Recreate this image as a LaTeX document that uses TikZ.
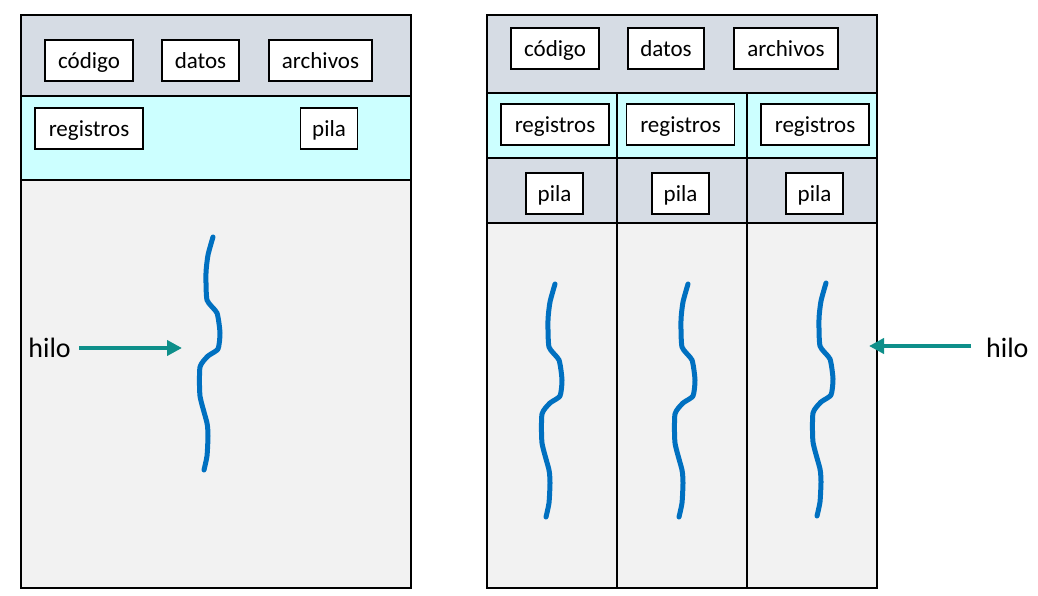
\documentclass[tikz,border=0pt]{standalone}
\usepackage{fontspec}
\setmainfont{Carlito}
\usetikzlibrary{arrows.meta}
\definecolor{bandgray}{HTML}{D6DCE4}
\definecolor{bandcyan}{HTML}{CCFFFF}
\definecolor{bodygray}{HTML}{F2F2F2}
\definecolor{threadblue}{HTML}{0070C0}
\definecolor{arrowteal}{HTML}{0E8F8A}
\tikzset{
  lbl/.style={draw=black, line width=1.4pt, fill=white, inner sep=0pt, minimum height=41pt,
    font=\fontsize{23}{27}\selectfont, text depth=0pt},
  panel/.style={draw=black, line width=1.4pt},
  thread/.style={draw=threadblue, line width=5pt, line join=round, line cap=round},
  hiloarrow/.style={draw=arrowteal, line width=4pt, -{Triangle[length=15pt,width=15pt]}},
  hilotxt/.style={font=\fontsize{28}{32}\selectfont, inner sep=3pt}
}
\newcommand{\wavythread}[2]{%
  \draw[thread] plot[smooth, tension=0.35] coordinates {
    (#1+0,#2+0) (#1-5,#2+18) (#1-7,#2+36) (#1-6,#2+63) (#1+4,#2+76) (#1+7,#2+96)
    (#1+5,#2+112) (#1-5,#2+119) (#1-13,#2+130) (#1-13,#2+159) (#1-6,#2+186)
    (#1-5,#2+199) (#1-6,#2+219) (#1-9,#2+233)};%
}
\begin{document}
\begin{tikzpicture}[x=1pt,y=-1pt]
\useasboundingbox (0,0) rectangle (1038,596);
% ---------- left panel ----------
\fill[bandgray] (21,15) rectangle (411,96);
\fill[bandcyan] (21,96) rectangle (411,180);
\fill[bodygray] (21,180) rectangle (411,588);
\draw[panel] (21,96) -- (411,96);
\draw[panel] (21,180) -- (411,180);
\draw[panel] (21,15) rectangle (411,588);
\node[lbl, minimum width=88pt] (codL) at (89,60.5) {código};
\node[lbl, minimum width=77pt] (datL) at (200.5,60.5) {datos};
\node[lbl, minimum width=103pt] (arcL) at (320.5,60.5) {archivos};
\node[lbl, minimum width=108pt] (regL) at (89,128.5) {registros};
\node[lbl, minimum width=57pt] (pilL) at (329,128.5) {pila};
\wavythread{213}{237}
\node[hilotxt, anchor=east] (hiloL) at (74,348) {hilo};
\coordinate (tipL) at (182,348);
\draw[hiloarrow] (hiloL.east) ++(5,0) -- (tipL);
% ---------- right panel ----------
\fill[bandgray] (487,15) rectangle (877,93);
\fill[bandcyan] (487,93) rectangle (877,158);
\fill[bandgray] (487,158) rectangle (877,223);
\fill[bodygray] (487,223) rectangle (877,588);
\draw[panel] (487,93) -- (877,93);
\draw[panel] (487,158) -- (877,158);
\draw[panel] (487,223) -- (877,223);
\draw[panel] (617,93) -- (617,588);
\draw[panel] (747,93) -- (747,588);
\draw[panel] (487,15) rectangle (877,588);
\node[lbl, minimum width=88pt] (codR) at (555,48.5) {código};
\node[lbl, minimum width=76pt] (datR) at (666,48.5) {datos};
\node[lbl, minimum width=104pt] (arcR) at (786,48.5) {archivos};
\node[lbl, minimum width=108pt] (regA) at (555,124.5) {registros};
\node[lbl, minimum width=108pt] (regB) at (680.5,124.5) {registros};
\node[lbl, minimum width=108pt] (regC) at (815,124.5) {registros};
\node[lbl, minimum width=57pt] (pilA) at (554.5,193.5) {pila};
\node[lbl, minimum width=57pt] (pilB) at (680.5,193.5) {pila};
\node[lbl, minimum width=57pt] (pilC) at (814.5,193.5) {pila};
\wavythread{555}{284}
\wavythread{688}{284}
\wavythread{826}{283}
\node[hilotxt, anchor=west] (hiloR) at (983,348) {hilo};
\coordinate (tipR) at (869,346);
\draw[hiloarrow] (hiloR.west) ++(-12,-2) -- (tipR);
\end{tikzpicture}
\end{document}
